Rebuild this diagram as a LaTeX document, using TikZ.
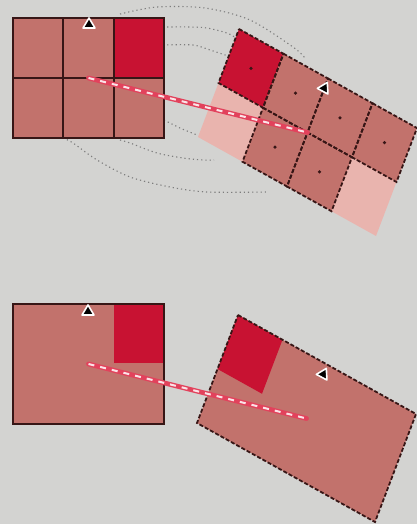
\documentclass[tikz,border=0pt]{standalone}
\usepackage{xcolor}
\usepackage{tikz}

\definecolor{cBack}{RGB}{211,211,209}
\definecolor{cBrown}{RGB}{194,114,108}
\definecolor{cHot}{RGB}{200,18,50}
\definecolor{cFaint}{RGB}{233,180,174}
\definecolor{cEdge}{RGB}{55,22,22}
\definecolor{cTrail}{RGB}{125,125,125}
\definecolor{cShift}{RGB}{226,66,92}

\tikzset{
  marker/.pic={\filldraw[fill=black,draw=white,line width=0.8pt,line join=round] (-6,4) -- (6,4) -- (0,-6) -- cycle;}
}

\begin{document}
\begin{tikzpicture}[x=0.5pt,y=-0.5pt,
    gridline/.style={draw=cEdge,line width=1pt},
    dashline/.style={draw=cEdge,line width=0.9pt,dash pattern=on 2pt off 1pt},
    trailpath/.style={draw=cTrail,line width=0.55pt,dash pattern=on 0.6pt off 1.5pt},
    shiftline/.style={draw=cShift,line width=2.4pt,line cap=round},
    shiftdash/.style={draw=white!85!cShift,line width=1pt,dash pattern=on 3pt off 3pt}]
    \useasboundingbox (0,0) rectangle (417,524);
    \fill[cBack] (0,0) rectangle (417,524);
    \clip (0,0) rectangle (417,524);

    % trails of the turn
    \draw[trailpath] plot[smooth] coordinates {(120,14) (157,7) (205,8) (250,20) (293,47) (305,58)};
    \draw[trailpath] plot[smooth] coordinates {(163,27) (190,27) (207,28) (227,33) (236,38)};
    \draw[trailpath] plot[smooth] coordinates {(163,45) (193,45) (210,50) (228,56)};
    \draw[trailpath] plot[smooth] coordinates {(63,138) (73,143) (97,160) (130,177) (170,187) (207,192) (268,192)};
    \draw[trailpath] plot[smooth] coordinates {(120,140) (130,143) (157,153) (183,158) (203,160) (214,160)};
    \draw[trailpath] plot[smooth] coordinates {(164,120) (180,128) (197,135)};

    % source, top
    \fill[cBrown] (13,18) rectangle (164,138);
    \fill[cHot] (114,18) rectangle (164,78);
    \foreach \x in {63.3,113.7} \draw[gridline] (\x,18) -- (\x,138);
    \draw[gridline] (13,78) -- (164,78);
    \draw[gridline] (13,18) rectangle (164,138);
    \coordinate (srcA) at (88.5,78);
    \pic at (89,24) {marker};

    % target, top
    \begin{scope}[shift={(239,29)},x={(22.25pt,-12.375pt)},y={(-10.25pt,-27pt)}]
    \foreach \c/\r/\col in {0/1/cFaint,3/1/cFaint,0/0/cHot,1/0/cBrown,2/0/cBrown,3/0/cBrown,1/1/cBrown,2/1/cBrown}
      \fill[\col] (\c,\r) -- ++(1,0) -- ++(0,1) -- ++(-1,0) -- cycle;
    \foreach \c/\r in {0/0,1/0,2/0,3/0,1/1,2/1} {
      \draw[dashline] (\c,\r) -- ++(1,0) -- ++(0,1) -- ++(-1,0) -- cycle;
      \fill[cEdge] (\c+0.5,\r+0.5) circle (0.9pt);
    }
    \coordinate (dstA) at (2,1);
    \coordinate (tipA) at (2,0.17);
    \end{scope}
    \pic[rotate=-28] at (tipA) {marker};

    \draw[shiftline] (srcA) -- (dstA);
    \draw[shiftdash] (srcA) -- (dstA);

    % source, bottom
    \fill[cBrown] (13,304) rectangle (164,424);
    \fill[cHot] (114,304) rectangle (164,363);
    \draw[gridline] (13,304) rectangle (164,424);
    \coordinate (srcB) at (88.5,364);
    \pic at (88,311) {marker};

    % target, bottom
    \begin{scope}[shift={(238,315)},x={(22.25pt,-12.375pt)},y={(-10.25pt,-27pt)}]
    \fill[cBrown] (0,0) -- (4,0) -- (4,2) -- (0,2) -- cycle;
    \fill[cHot] (0,0) -- (1,0) -- (1,1) -- (0,1) -- cycle;
    \draw[dashline] (0,0) -- (4,0) -- (4,2) -- (0,2) -- cycle;
    \coordinate (dstB) at (2,1);
    \coordinate (tipB) at (2,0.17);
    \end{scope}
    \pic[rotate=-28] at (tipB) {marker};

    \draw[shiftline] (srcB) -- (dstB);
    \draw[shiftdash] (srcB) -- (dstB);
\end{tikzpicture}
\end{document}
